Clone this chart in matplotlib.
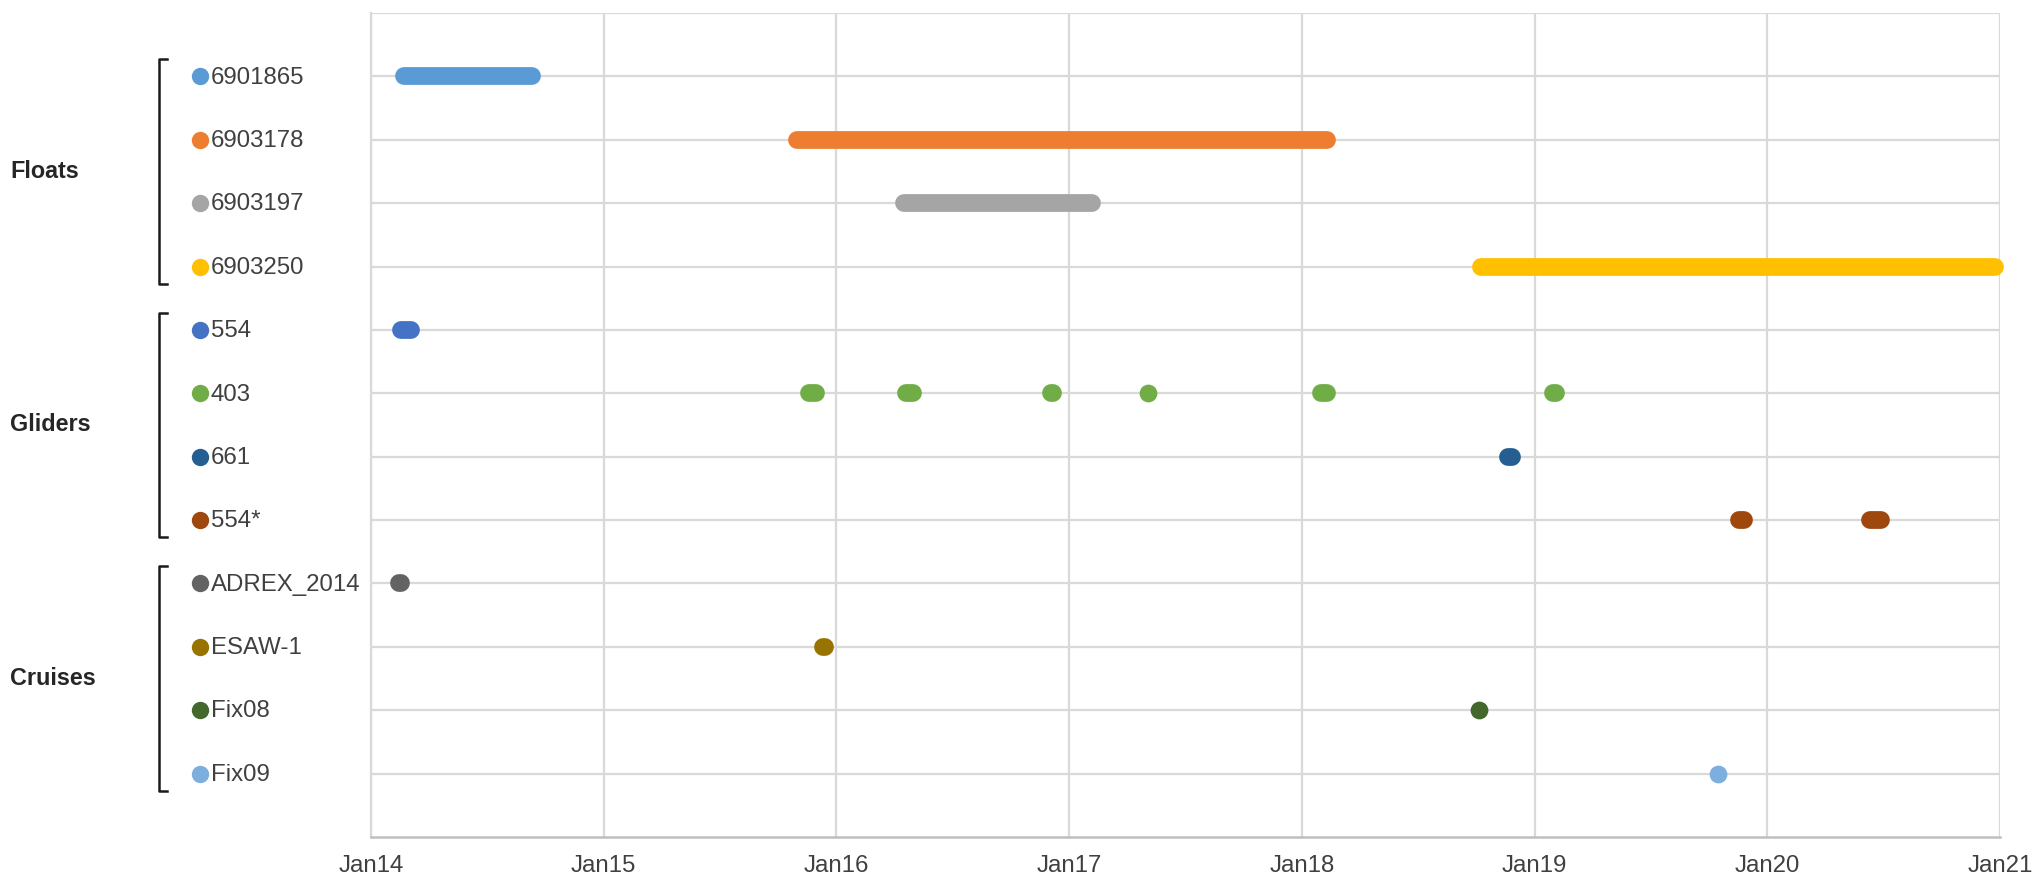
"""Deployment timeline of floats, gliders and cruises, 2014-2021."""
import matplotlib
matplotlib.use("Agg")
import matplotlib.pyplot as plt
from matplotlib.transforms import blended_transform_factory

plt.rcParams["font.family"] = ["Liberation Sans", "DejaVu Sans"]

# platform names, top to bottom
names = ["6901865", "6903178", "6903197", "6903250",
         "554", "403", "661", "554*",
         "ADREX_2014", "ESAW-1", "Fix08", "Fix09"]
colors = ["#5B9BD5", "#ED7D31", "#A5A5A5", "#FFC000",
          "#4472C4", "#70AD47", "#255E91", "#9E480E",
          "#636363", "#997300", "#43682B", "#7CAFDD"]

# deployment periods (decimal years), one list of (start, end) per platform
periods = [
    [(2014.14, 2014.69)],
    [(2015.83, 2018.11)],
    [(2016.29, 2017.10)],
    [(2018.77, 2020.98)],
    [(2014.13, 2014.17)],
    [(2015.88, 2015.91), (2016.30, 2016.33), (2016.92, 2016.93),
     (2017.34, 2017.34), (2018.08, 2018.11), (2019.08, 2019.09)],
    [(2018.886, 2018.903)],
    [(2019.88, 2019.90), (2020.44, 2020.49)],
    [(2014.12, 2014.13)],
    [(2015.94, 2015.95)],
    [(2018.76, 2018.76)],
    [(2019.79, 2019.79)],
]

groups = ["Floats", "Gliders", "Cruises"]
group_rows = [(1, 4), (5, 8), (9, 12)]

years = list(range(2014, 2022))
year_labels = ["Jan14", "Jan15", "Jan16", "Jan17", "Jan18", "Jan19", "Jan20", "Jan21"]

GRID = "#D9D9D9"
TEXT = "#404040"

fig = plt.figure(figsize=(20.4, 8.89), dpi=100)
ax = fig.add_axes([0.1819, 0.0585, 0.7985, 0.9269])

lw = 12.8
for row, (color, segs) in enumerate(zip(colors, periods), start=1):
    for start, end in segs:
        if start == end:
            ax.plot([start], [row], color=color, marker="o", ms=lw, mew=0,
                    zorder=3, clip_on=False)
        else:
            ax.plot([start, end], [row, row], color=color, lw=lw,
                    solid_capstyle="round", zorder=3, clip_on=False)

ax.set_xlim(years[0], years[-1])
ax.set_ylim(13, 0)
ax.set_xticks(years, year_labels)
ax.set_yticks(range(0, 13))
ax.tick_params(axis="y", left=False, labelleft=False)
ax.tick_params(axis="x", length=0, pad=13, labelsize=17.3, labelcolor=TEXT)
ax.grid(True, color=GRID, lw=1.6, zorder=0)
ax.spines["left"].set_color(GRID)
ax.spines["left"].set_linewidth(1.6)
ax.spines["bottom"].set_color("#BFBFBF")
ax.spines["bottom"].set_linewidth(1.8)
ax.spines["right"].set_visible(False)
ax.spines["top"].set_visible(False)

# name labels with coloured dots left of the plot
trans = blended_transform_factory(ax.transAxes, ax.transData)
for row, (name, color) in enumerate(zip(names, colors), start=1):
    ax.plot([-0.1050], [row], marker="o", ms=12.5, mew=0, color=color,
            transform=trans, clip_on=False)
    ax.text(-0.0985, row + 0.02, name, transform=trans, ha="left", va="center",
            fontsize=17.3, color=TEXT)

# group brackets and labels
for group, (r0, r1) in zip(groups, group_rows):
    top, bottom = r0 - 0.27, r1 + 0.27
    ax.plot([-0.1255, -0.1300, -0.1300, -0.1255], [top, top, bottom, bottom],
            color="#1a1a1a", lw=1.8, transform=trans, clip_on=False)
    ax.text(-0.2216, (r0 + r1) / 2, group, transform=trans, ha="left",
            va="center", fontsize=16.8, fontweight="bold", color="#262626")

fig.savefig("out.png", dpi=100)
